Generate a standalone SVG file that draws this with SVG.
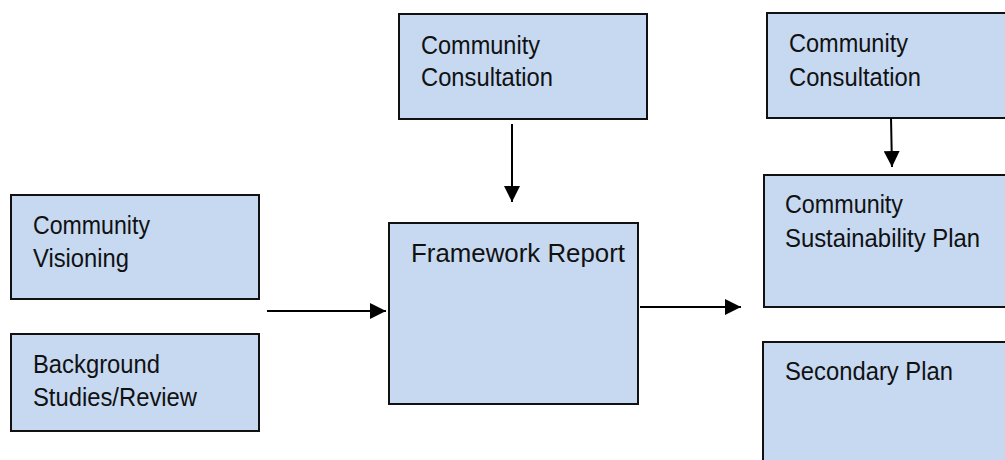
<svg xmlns="http://www.w3.org/2000/svg" width="1005" height="460" viewBox="0 0 1005 460">
<style>
.box{fill:#C6D9F1;stroke:#111;stroke-width:2}
.lbl{font-family:"Liberation Sans",Arial,sans-serif;font-size:26px;fill:#111}
.conn{stroke:#000;stroke-width:2;fill:none;marker-end:url(#ah)}
</style>
<defs>
<marker id="ah" viewBox="0 0 16 16" refX="16" refY="8" markerWidth="16" markerHeight="16" markerUnits="userSpaceOnUse" orient="auto">
<path d="M0,0 L16,8 L0,16 Z" fill="#000"/>
</marker>
</defs>
<rect width="1005" height="460" fill="#fff"/>
<g id="visioning">
<rect class="box" x="11" y="195" width="248" height="104"/>
<text class="lbl" x="33" y="234" textLength="117" lengthAdjust="spacingAndGlyphs">Community</text>
<text class="lbl" x="33" y="267" textLength="96" lengthAdjust="spacingAndGlyphs">Visioning</text>
</g>
<g id="background">
<rect class="box" x="11" y="334" width="248" height="97"/>
<text class="lbl" x="33" y="373" textLength="127" lengthAdjust="spacingAndGlyphs">Background</text>
<text class="lbl" x="33" y="406" textLength="164" lengthAdjust="spacingAndGlyphs">Studies/Review</text>
</g>
<g id="consultation1">
<rect class="box" x="399" y="14" width="248" height="105"/>
<text class="lbl" x="421" y="54" textLength="119" lengthAdjust="spacingAndGlyphs">Community</text>
<text class="lbl" x="421" y="86" textLength="132" lengthAdjust="spacingAndGlyphs">Consultation</text>
</g>
<g id="framework">
<rect class="box" x="389" y="223" width="249" height="181"/>
<text class="lbl" x="411" y="262" textLength="214" lengthAdjust="spacingAndGlyphs">Framework Report</text>
</g>
<g id="consultation2">
<rect class="box" x="767" y="13" width="250" height="105"/>
<text class="lbl" x="789" y="52" textLength="119" lengthAdjust="spacingAndGlyphs">Community</text>
<text class="lbl" x="789" y="86" textLength="132" lengthAdjust="spacingAndGlyphs">Consultation</text>
</g>
<g id="sustainability">
<rect class="box" x="764" y="175" width="253" height="132"/>
<text class="lbl" x="785" y="213" textLength="118" lengthAdjust="spacingAndGlyphs">Community</text>
<text class="lbl" x="785" y="247" textLength="195" lengthAdjust="spacingAndGlyphs">Sustainability Plan</text>
</g>
<g id="secondary">
<rect class="box" x="763" y="342" width="254" height="130"/>
<text class="lbl" x="785" y="380" textLength="168" lengthAdjust="spacingAndGlyphs">Secondary Plan</text>
</g>
<g id="connectors">
<line class="conn" x1="512" y1="124" x2="512" y2="202"/>
<line class="conn" x1="891" y1="118" x2="892" y2="167"/>
<line class="conn" x1="267" y1="311" x2="386" y2="311"/>
<line class="conn" x1="640" y1="307" x2="741" y2="307"/>
</g>
</svg>
